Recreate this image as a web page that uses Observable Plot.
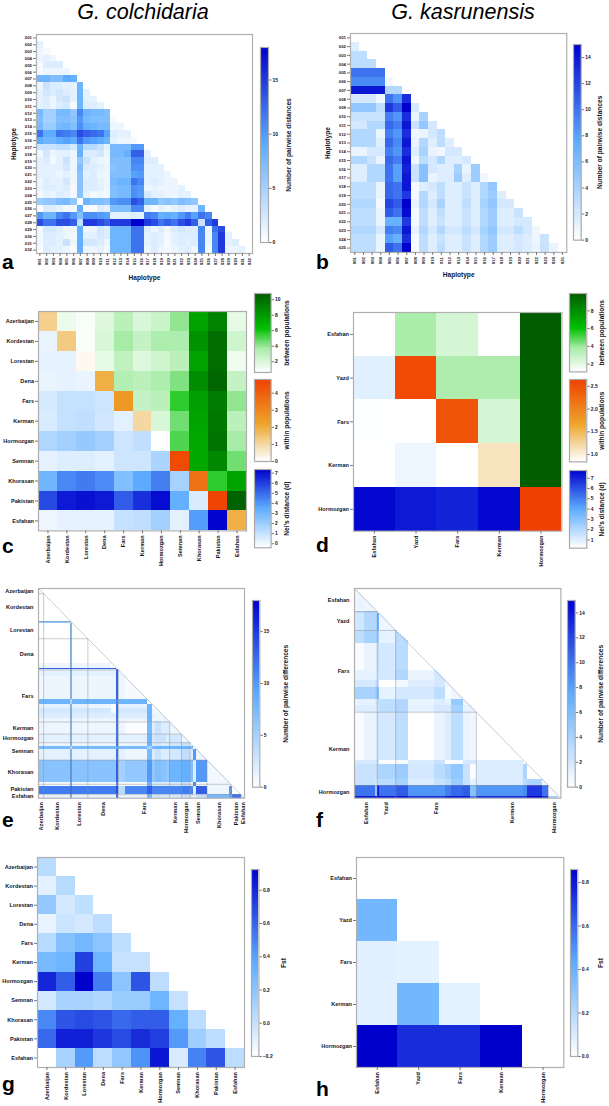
<!DOCTYPE html>
<html><head><meta charset="utf-8">
<script src="https://cdn.jsdelivr.net/npm/d3@7"></script>
<script src="https://cdn.jsdelivr.net/npm/@observablehq/plot@0.6"></script>
<style>
html,body{margin:0;padding:0;background:#fff}
#page{position:relative;width:609px;height:1106px;overflow:hidden;font-family:"Liberation Sans",Arial,sans-serif}
#page svg{position:absolute;overflow:visible;background:transparent}
.title{position:absolute;font-style:italic;font-size:21.5px;line-height:1.2;color:#000;transform:translateX(-50%);white-space:nowrap}
.tag{position:absolute;font-weight:bold;font-size:21px;line-height:1;color:#000}
</style></head><body><div id="page"></div>
<script>
// ---------- labels ----------
const popsC = ["Azerbaijan","Kordestan","Lorestan","Dena","Fars","Kerman","Hormozgan","Semnan","Khorasan","Pakistan","Esfahan"];
const popsK = ["Esfahan","Yazd","Fars","Kerman","Hormozgan"];
const hapA = Array.from({length:32},(_,i)=>String(i+1).padStart(3,"0"));
const hapB = Array.from({length:25},(_,i)=>String(i+1).padStart(3,"0"));

// ---------- panel a : pairwise distances between haplotypes ----------
const distA = [[],
[1.5],[1,.5],[1,1.5,1],[.5,2,2,2],[.5,1,1,1,1],
[8,8,7,7,9,8.5],
[1,3,2,2,1.5,1.5,8],[1.5,2.5,2,2.5,2,1.5,8,1.5],[1.5,2,1,2.5,3,1.5,8,1.5,1.5],[1.5,2,1,2,2.5,.5,8,2,2,1.5],
[7.5,5,5,7.5,7.5,6,11,8,7.5,7.5,7],
[7,5,5,7,7,6.5,10,7.5,7,7,7,.5],
[7.5,5.5,5.5,7.5,8,7,10.5,8.5,8,7.5,7.5,1,1],
[12,9,9,12,11.5,11,14,13,12.5,12,9.5,2,1.5,1.5],
[9,8,8,9,9.5,9,12,10,9.5,9,8,1.5,1,1,.5],
[3,3,3,3.5,3.5,2.5,8,4,4,3,1.5,7.5,7.5,7.5,10,10],
[.8,2.5,1,1.5,1.5,1,8.5,2,2,2.5,1,7.5,7.5,8.5,13,13,1.5],
[1.5,2,.7,1.5,3,1,6,3,1.5,1,.8,7,7,7,11,11,2,2],
[1.5,1.5,1.5,1.5,2.5,1,7,2,2,1.5,1,6.5,7,7,10.5,10.5,1.5,1.5,1.5],
[1.5,1.5,1.5,1,1.5,1,6.5,1.5,2,1,1,7,7,7,9.5,10,1.5,1.5,1.5,1],
[1,2,1.5,1.5,2.5,1,6.5,2,2,1.5,1,7.5,8,8,12,11,1.5,2,1.5,1,1],
[1.2,1.8,1.8,1.5,2,.5,6.5,2,2,1.5,1,7,7.5,7.5,10.5,10,1,1.5,1,1,1,1.5],
[.7,1.5,1,2,1.5,.8,6.5,1.5,.7,1,.7,7,7.5,7.5,10.5,10,2.5,1.5,1.5,1,1,1.5,1.5],
[5.5,6,6,7,7.5,6,.3,8,7,7,6.5,10,10.5,10.5,14,13,8,8,6,6.5,6,7,6.5,6],
[.3,2,2,1.5,.8,.8,8.5,.5,.3,2,1.5,7,7,7,11,11,1.5,.5,1.5,1,1.5,2,1.5,1.5,8],
[10,8,8,11,12,10,7,10.5,10.5,10,9.5,1.5,1.5,1.5,2,1.5,11.5,11,8.5,9,8.5,10,11.5,9.5,12,11],
[14,12,12,14,14,13,3.5,15,15,14,13,15,15,15,18,18,15,14,12,13,12,14,15,13,3,13,15],
[.7,2.5,2.5,2,1,1,8.5,1,1,2.5,2,8,8,8,12,12,2,1,2,1,2,2.5,2,2,11,1,12,14],
[.7,2,2,1.5,1,.8,8.5,1.5,1.5,2.5,2,8,8,8,12,12,1.5,2,1.5,.7,1.5,2,2,2,11,1,11,15,1.5],
[.8,2,2,1.5,3,1,8.5,2.5,2.5,2,1,8,8,8,12,12,1.5,2,1.5,.5,1.5,2,1.5,2,11,1,11,15,1.5,2],
[.3,2,1.5,1.5,1,.5,8.5,1,1,1.5,.5,8,8,8,12,12,1,2,1,.5,1,1.5,2,1,11,.5,11,15,1,1,1.5]];

// ---------- panel b ----------
const distB = [[],
[1.5],[3,3],[3,3,3],[10,10,10,10],[9,9,9,9,.7],[14,14,14,14,3.5,3.5],
[2,2,2,.8,10,8.5,13],[5,5,5,3,12.5,11,15,2],[2.5,2.5,2.5,2.5,9.5,8.5,13,1,4],
[2,2,3.5,3.5,10.5,9.5,14,2.5,5,2],[3.5,3.5,3.5,1,9.5,8.5,13,.7,1,2,3],
[3.5,3.5,3.5,1.5,10.5,9,14,1,3.5,1.5,3,1.5],[1,1,2,2,9.5,8.5,13,1.5,4,1,.7,2,2],
[3.5,3.5,2.5,1,10.5,9.5,14,.7,3,2,3.5,1.5,1.5,2],
[1.5,1.5,3.5,3.5,10,8,13.5,2.5,5.5,2,1.5,1.5,4,1,4.5],
[1.5,1.5,3.5,3.5,10,8,14,2.5,5.5,1,1.5,1.5,4.5,1.5,4.5,.7],
[3,3,3,1,10.5,10,14,.5,1.5,2,3,1.5,1.5,2.5,1.5,3.5,5],
[3,3,3,1,10.5,10,12.5,.5,3.5,1.5,3,1.5,1.5,2.5,1.5,3.5,4.5,1.5],
[3.5,3.5,3.5,.5,12,11,15,1,3.5,2,4,1.5,1.5,3,1.5,4,5,2,2],
[3,3,3,1,11,10,14.5,.5,3,1.5,3,1.5,1.5,2.5,1.5,3.5,4.5,1.5,1.5,2.5],
[3,3,3,1,7,7,12.5,.5,3,1.5,2.5,1.5,1.5,2.5,1.5,3.5,4.5,1.5,1.5,2,2],
[3.5,3.5,3.5,2,9.5,9,14,1,3.5,2,3.5,2,2,3,2,4,5,2,2,3,2,.8],
[3,3,3,1,8,7,13,.5,3,1.5,2.5,1.5,1.5,2.5,1.5,3.5,4.5,1.5,1.5,2,1.5,.8,2.5],
[3,3,3,1,11,10,15,.3,3,1.5,3,1.5,1.5,2.5,1.5,3.5,4.5,1.5,1.5,2,1.5,1,2.5,1]];

// ---------- panel c ----------
const withinC = [1.2,1.3,.15,1.9,2.5,1,0,4.5,3.5,4.7,1.9];
const betweenC = [
[1.3,.9,1.8,3,2,2.5,4,7.5,9,1.5],
[.8,2,3.7,2.7,3.5,3.5,8.3,10,2.3],
[1.5,2.8,1.8,2.3,3,7.5,10,1.2],
[3.3,3,3.5,4.3,8.5,10.3,2.7],
[2.7,3,5.5,7.7,9.3,4],
[2,4.5,7.5,9.5,3],
[5,7.3,9.7,3.7],
[7.3,8.8,4.5],
[5.5,7.5],
[10.5],[]];
const neiC = [[],
[.1],[.2,.2],[.1,.2,.1],[.6,1,1,.8],[.5,1,1.1,.7,.3],[1.5,1.8,2.1,1.8,.8,1.1],
[.2,.4,.4,.3,.8,.8,1.6],[3,4.3,4.6,4.2,2.6,3.5,4.5,1.7],
[5.7,6.8,7,6.8,5.3,6.3,7.1,3.3,.5],[0,.2,.2,.2,1,1.1,1.8,.3,3.8,7.3]];

// ---------- panel d ----------
const withinD = [.84,2.55,2.45,1.1,2.65];
const betweenD = [[3.7,2.4,1.2,9.9],[3.6,3.6,9.9],[2.4,9.9],[9.9],[]];
const neiD = [[],[.9],[.25,.2],[.2,.6,.2],[7.6,7.2,7,7.6]];

// ---------- panel e : individuals grouped in runs ----------
const popSizeE = [3,16,10,18,30,7,5,10,14,6,2];
const runSizeE = [3,16,1,9,14,3,1,4,13,3,2,3,3,2,7,5,2,2,6,13,2,5,2];
const diffE = [
[0],[0,0],[6,6.5,0],[0,0,7,0],[0,0,7,0,0],[1,1,7,1,1,0],
[13,13,14,13,13,13,0],
[1.5,1.5,7,1.5,1.5,1.5,13,1],
[.8,1,7,1,1,1.2,13,1,.5],
[8,8,3,8,8,8,11,8,8,0],
[1.5,1.5,7,1.5,1,.3,12,1.5,1.5,8,0],
[2.5,2.5,7.5,2.5,2.5,.5,12,2.5,2.5,8,1,.5],
[2,2,7.5,2,2,2,12,2,2,8,1.5,1,1],
[1,1,7,1,1,1,12,1,1,8,1,1,1,1],
[1,1,7,1,1,1,12,1,.3,7.5,2,3,2,2,1],
[1.5,1.5,7,1.5,1.5,1.5,12,1.5,1.5,8,2.5,3,3,2,2.5,1],
[1,1,7,1,1,1,12,1,1,8,2,2.5,2,2,2.5,3,0],
[7.5,7.5,3,7.5,7.5,7.5,9,7.5,7.5,5,7.5,8,8,8,8,8,7.5,0],
[1.5,1.5,7,1.5,1.5,1.5,12,1.5,1,7.5,2,3,2,2,2.5,3.5,2,10,1],
[6.5,6.5,10,6.5,6.5,6.5,13,5,6,10,6,7,6.5,6,8,8.5,7,2,10,.8],
[.5,.5,8,.5,.5,.5,11,.5,.5,8,2,2,2,2,2,3,1,11,.5,1,0],
[11.5,11.5,13,11.5,11.5,11.5,14,4,11,13,11,11,11,11,11,11.5,11,2,13,1,10,0],
[1,1,7.5,1,1,1,12,1,1,7.5,2,2.5,2,2,2,3,2,1,3,7.5,9,12,.5]];

// ---------- panel f ----------
const popSizeF = [11,9,39,35,6];
const runSizeF = [5,5,1,1,8,6,13,5,3,6,3,3,23,2,7,3,5,1];
const diffF = [
[.8],[1,.8],[.8,.8,0],[3,4,4,0],[2.2,3.5,3.5,7,.8],[3,4,4,4.5,1.2,3.2],
[.3,1,1.2,3,2,3.2,0],
[1.2,1.2,1.2,2.5,2,3.6,1,2],
[2,2,2.5,2.5,0,.6,1.5,2,.8],
[4,4,4.5,5.5,1.2,2,2,3,.3,.8],
[1.2,1.2,1.6,3,3,3.6,1,1.6,1.2,4.8,.8],
[1.6,1.6,1.6,2.5,3,3.6,1.2,2,2,4.2,1.2,1.2],
[.3,1,1.2,2.5,2,3,0,1,1.6,3,1,.8,0],
[2,2,2,2.5,.2,.4,1.8,2.5,.2,.3,2,2,1.6,0],
[2.5,2.5,2.5,3.8,3.8,4.5,2,3.2,4,5,2.5,.2,1.6,3.8,0],
[2.5,2.5,2,3.2,3.2,4,1.6,2.5,3.2,4.5,2.5,1.2,1.6,3.2,3.8,.4],
[10,10,5,14,10,11,8.5,8.5,9.5,10.5,11,5.5,8.5,9,12.5,10,.3],
[14,14,14,15,14,14,13,13,14,14,14,10,13,13,15,13,4,0]];

// ---------- panels g, h : Fst ----------
const fstG = [[.04],[-.1,.05],[.17,-.05,.02],[-.12,-.02,-.05,.03],[.05,.22,.28,.2,.02],
[.27,.3,.72,.3,0,0],[.8,.62,.93,.52,.2,.65,.03],[-.05,.1,.1,.07,.15,.15,.3,0],
[.48,.65,.68,.65,.58,.62,.62,.33,.03],[.58,.82,.82,.75,.68,.78,.72,.42,.13,.03],
[-.2,.1,.42,.03,.18,.45,.85,-.07,.5,.65,.03]];
const fstH = [[0],[.37],[.08,.07],[.08,.37,.07,0],[.86,.75,.75,.86,0]];

// ---------- colour ramps ----------
const blueRamp = (a,b)=>({type:"linear",domain:[a,(a+b)/2,b],range:["#ffffff","#5cacff","#0000cd"]});
const greenRamp = (a,b)=>({type:"linear",domain:[a,a+.3*(b-a),a+.55*(b-a),b],range:["#ffffff","#a8eca8","#00c000","#005c00"]});
const orangeRamp = (a,b)=>({type:"linear",domain:[a,a+.2*(b-a),a+.45*(b-a),b],range:["#ffffff","#f5d9a5","#eea52b","#f04000"]});

// ---------- helpers ----------
const page = document.getElementById("page");
const INK = "#15151f", TICK = "#777";
const bf = {fontWeight:"bold"};
const intFmt = d3.format("d"), decFmt = d3.format(".1f");
function put(opts,fx,fy,fw,fh,{ml=2,mr=2,mt=2,mb=2}={}){
  const svg = Plot.plot({width:fw+ml+mr,height:fh+mt+mb,marginLeft:ml,marginRight:mr,marginTop:mt,marginBottom:mb,
    style:{fontFamily:"Liberation Sans",background:"transparent",overflow:"visible",color:INK},...opts});
  svg.style.left=(fx-ml)+"px"; svg.style.top=(fy-mt)+"px"; page.appendChild(svg);
}
function colorbar(color,lo,hi,ticks,fx,fy,fw,fh,label,labelX,fmt=intFmt){
  const steps=d3.range(90).map(i=>({a:lo+(hi-lo)*i/90,b:lo+(hi-lo)*(i+1)/90}));
  put({x:{domain:[0,1],axis:null},y:{domain:[lo,hi]},color,marks:[
    Plot.rect(steps,{x1:()=>0,x2:()=>1,y1:"a",y2:"b",fill:d=>(d.a+d.b)/2,shapeRendering:"crispEdges"}),
    Plot.frame({stroke:"#aaa",strokeWidth:1.2}),
    Plot.axisY({anchor:"right",ticks,tickSize:2.5,tickPadding:1.5,fontSize:5,...bf,stroke:TICK,label:null,tickFormat:fmt}),
    Plot.axisY({anchor:"right",ticks:[],tickSize:0,label,labelAnchor:"center",labelArrow:"none",labelOffset:labelX-(fx+fw),fontSize:6.6,...bf})
  ]},fx,fy,fw,fh,{mr:40});
}
function triCells(rows,labels){
  const out=[];
  rows.forEach((r,i)=>r.forEach((v,j)=>out.push({x:labels[j],y:labels[i],v})));
  return out;
}
function bandAxes(labels,{fs,ts=3,tp=1.5,xLabel,yLabel,xOff,yOff,lfs=6.6}){
  return [
    Plot.axisX({anchor:"bottom",tickRotate:-90,tickSize:ts,tickPadding:tp,fontSize:fs,...bf,stroke:TICK,label:null}),
    Plot.axisY({anchor:"left",tickSize:ts,tickPadding:tp,fontSize:fs,...bf,stroke:TICK,label:null}),
    xLabel?Plot.axisX({anchor:"bottom",ticks:[],tickSize:0,label:xLabel,labelAnchor:"center",labelArrow:"none",labelOffset:xOff,fontSize:lfs,...bf}):null,
    yLabel?Plot.axisY({anchor:"left",ticks:[],tickSize:0,label:yLabel,labelAnchor:"center",labelArrow:"none",labelOffset:yOff,fontSize:lfs,...bf}):null
  ];
}
function triPanel(rows,labels,ramp,fx,fy,fw,fh,axes){
  put({x:{type:"band",domain:labels,padding:0,round:false},y:{type:"band",domain:labels,padding:0,round:false},color:ramp,marks:[
    Plot.cell(triCells(rows,labels),{x:"x",y:"y",fill:"v",shapeRendering:"crispEdges"}),
    Plot.frame({stroke:"#b0b0b0",strokeWidth:1.2}),
    ...bandAxes(labels,axes)
  ]},fx,fy,fw,fh,{ml:38,mb:36,mt:2,mr:2});
}
function mixedPanel(labels,within,between,nei,rampW,rampB,rampN,fx,fy,fw,fh,fs){
  const sW=Plot.scale({color:rampW}),sB=Plot.scale({color:rampB}),sN=Plot.scale({color:rampN});
  const data=[];
  labels.forEach((p,i)=>data.push({x:p,y:p,c:sW.apply(within[i])}));
  between.forEach((r,i)=>r.forEach((v,k)=>data.push({x:labels[i+1+k],y:labels[i],c:sB.apply(v)})));
  nei.forEach((r,i)=>r.forEach((v,j)=>data.push({x:labels[j],y:labels[i],c:sN.apply(v)})));
  put({x:{type:"band",domain:labels,padding:0,round:false},y:{type:"band",domain:labels,padding:0,round:false},color:{type:"identity"},marks:[
    Plot.cell(data,{x:"x",y:"y",fill:"c",shapeRendering:"crispEdges"}),
    Plot.frame({stroke:"#b0b0b0",strokeWidth:1.2}),
    ...bandAxes(labels,{fs})
  ]},fx,fy,fw,fh,{ml:38,mb:36});
}
function runPanel(rows,runs,pops,labels,ramp,fx,fy,fw,fh){
  const N=d3.sum(runs), who=[];
  runs.forEach((n,r)=>{for(let k=0;k<n;k++)who.push(r);});
  const cells=[];
  for(let i=0;i<N;i++)for(let j=0;j<=i;j++)cells.push({i,j,v:rows[who[i]][who[j]]});
  const ends=d3.cumsum(pops);
  const mids=pops.map((n,k)=>ends[k]-n/2);
  const nameAt=t=>labels[mids.indexOf(t)];
  const lines=Array.from(ends).slice(0,-1);
  const grey={stroke:"#8e8e8e",strokeOpacity:.65,strokeWidth:.7};
  put({x:{domain:[0,N]},y:{domain:[N,0]},color:ramp,marks:[
    Plot.rect(cells,{x1:"j",x2:d=>d.j+1,y1:"i",y2:d=>d.i+1,fill:"v",shapeRendering:"crispEdges"}),
    Plot.link(lines,{x1:()=>0,x2:b=>b,y1:b=>b,y2:b=>b,...grey}),
    Plot.link(lines,{x1:b=>b,x2:b=>b,y1:b=>b,y2:()=>N,...grey}),
    Plot.link([N],{x1:()=>0,y1:()=>0,x2:()=>N,y2:()=>N,...grey}),
    Plot.frame({stroke:"#b0b0b0",strokeWidth:1.2}),
    Plot.axisX({anchor:"bottom",ticks:mids,tickFormat:nameAt,tickRotate:-90,tickSize:0,tickPadding:4,fontSize:5.6,...bf,label:null}),
    Plot.axisY({anchor:"left",ticks:mids,tickFormat:nameAt,tickSize:0,tickPadding:5,fontSize:5.6,...bf,label:null})
  ]},fx,fy,fw,fh,{ml:38,mb:36});
}
function text(cls,s,x,y){
  const d=document.createElement("div");d.className=cls;d.textContent=s;d.style.left=x+"px";d.style.top=y+"px";page.appendChild(d);
}

// ---------- draw ----------
text("title","G. colchidaria",143,0);
text("title","G. kasrunensis",463,0);
[["a",2,269],["b",316,269],["c",2,552.7],["d",316,552],["e",2,826.7],["f",316,826.7],["g",2,1090.8],["h",316,1096]]
  .forEach(([s,x,b])=>text("tag",s,x,b-.846*21));

triPanel(distA,hapA,blueRamp(0,18),36,34,216,219,{fs:4.3,ts:3,tp:1.5,xLabel:"Haplotype",yLabel:"Haplotype",xOff:26,yOff:25});
colorbar(blueRamp(0,18),0,18,[0,5,10,15],260,46.7,8,195,"Number of pairwise distances",290);

triPanel(distB,hapB,blueRamp(0,15),349.7,32.7,216.3,219,{fs:4.3,ts:3,tp:1.5,xLabel:"Haplotype",yLabel:"Haplotype",xOff:25,yOff:25});
colorbar(blueRamp(0,15),0,15,[0,2,4,6,8,10,12,14],573.3,44.3,7.7,195.7,"Number of pairwise distances",602);

mixedPanel(popsC,withinC,betweenC,neiC,orangeRamp(0,4.8),greenRamp(.62,10.8),blueRamp(-.4,7.36),38.3,311.3,208,219.4,5.6);
colorbar(greenRamp(.62,10.8),.62,10.8,[2,4,6,8,10],253.7,292.7,16.6,79,"between populations",288);
colorbar(orangeRamp(0,4.8),0,4.8,[0,1,2,3,4],253.7,379,16.6,82,"within populations",288);
colorbar(blueRamp(-.4,7.36),-.4,7.36,[0,1,2,3,4,5,6,7],253.7,469,16.6,78.3,"Nei's distance (d)",288);

mixedPanel(popsK,withinD,betweenD,neiD,orangeRamp(.84,2.65),greenRamp(1.13,9.96),blueRamp(.2,7.75),353.3,312,208.4,218.7,5.6);
colorbar(greenRamp(1.13,9.96),1.13,9.96,[2,4,6,8],568.7,293.3,17.3,78.4,"between populations",603);
colorbar(orangeRamp(.84,2.65),.84,2.65,[1,1.5,2,2.5],568.7,379.3,17.3,82.4,"within populations",603,decFmt);
colorbar(blueRamp(.2,7.75),.2,7.75,[1,2,3,4,5,6,7],568.7,470,17.3,77.7,"Nei's distance (d)",603);

runPanel(diffE,runSizeE,popSizeE,popsC,blueRamp(0,18),38.3,588.3,206,209.7);
colorbar(blueRamp(0,18),0,18,[0,5,10,15],251.7,600,7.3,186.7,"Number of pairwise differences",287);

runPanel(diffF,runSizeF,popSizeF,popsK,blueRamp(0,15),354.3,588.3,206.4,209.7);
colorbar(blueRamp(0,15),0,15,[0,2,4,6,8,10,12,14],567.3,600,7.7,186.7,"Number of pairwise differences",603);

triPanel(fstG,popsC,blueRamp(-.2,.925),37.3,857.3,207,210,{fs:5.6,ts:3,tp:1.5});
colorbar(blueRamp(-.2,.925),-.2,.925,[-.2,0,.2,.4,.6,.8],251.3,869,7.4,187,"Fst",286,decFmt);

triPanel(fstH,popsK,blueRamp(0,.86),356,857.3,207.3,210,{fs:5.6,ts:3,tp:1.5});
colorbar(blueRamp(0,.86),0,.86,[0,.2,.4,.6,.8],570,869,7.3,187,"Fst",603,decFmt);
</script></body></html>
